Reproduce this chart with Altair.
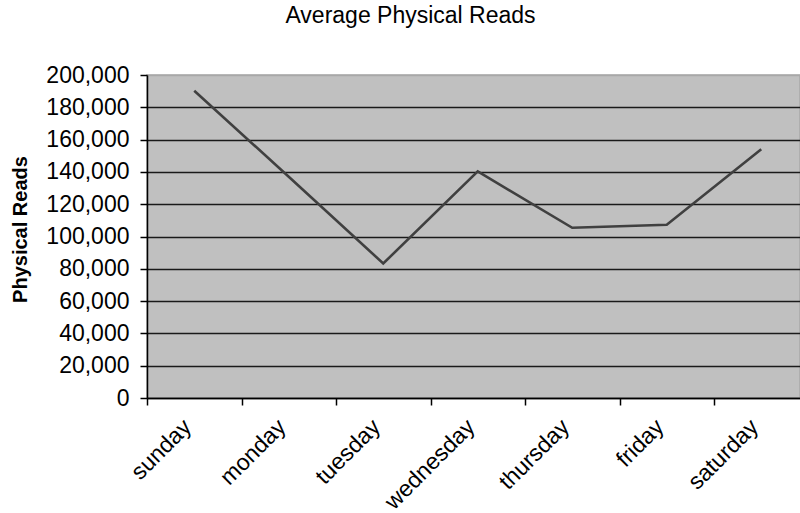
import altair as alt
import pandas as pd

days = ["sunday", "monday", "tuesday", "wednesday", "thursday", "friday", "saturday"]
reads = [190300, 137000, 83300, 140300, 105400, 107300, 154000]
y_ticks = [0, 20000, 40000, 60000, 80000, 100000, 120000, 140000, 160000, 180000, 200000]

df = pd.DataFrame({"day": days, "reads": reads})

FONT = "Liberation Sans"

chart = alt.Chart(df).mark_line(color="#404040", strokeWidth=2.6).encode(
    x=alt.X(
        "day:N",
        sort=days,
        scale=alt.Scale(type="band", paddingInner=0, paddingOuter=0, range=[0, 661.5]),
        axis=alt.Axis(
            title=None,
            labelAngle=315,
            labelAlign="right",
            labelBaseline="middle",
            labelPadding=18,
            labelOffset=-7,
            labelFont=FONT,
            labelFontSize=23,
            labelColor="#000000",
            tickBand="extent",
            tickSize=7,
            tickColor="#000000",
            tickWidth=1.5,
            domainColor="#000000",
            domainWidth=1.5,
            grid=False,
        ),
    ),
    y=alt.Y(
        "reads:Q",
        scale=alt.Scale(domain=[0, 200000], nice=False, zero=True),
        axis=alt.Axis(
            title="Physical Reads",
            titleFont=FONT,
            titleFontSize=20,
            titleFontWeight="bold",
            titleColor="#000000",
            titlePadding=15,
            titleY=154,
            values=y_ticks,
            format=",.0f",
            labelFont=FONT,
            labelFontSize=23,
            labelColor="#000000",
            labelPadding=11,
            tickSize=7,
            tickColor="#000000",
            tickWidth=1.5,
            domainColor="#000000",
            domainWidth=1.5,
            grid=True,
            gridColor=alt.condition(alt.datum.value == 200000, alt.value("#a8a8a8"), alt.value("#1a1a1a")),
            gridWidth=1.5,
            gridOpacity=1,
        ),
    ),
).properties(
    width=653,
    height=323,
    title=alt.TitleParams(
        text="Average Physical Reads",
        font=FONT,
        fontSize=23,
        fontWeight="normal",
        color="#000000",
        anchor="middle",
        frame="group",
        dx=-63,
        offset=36,
    ),
    autosize=alt.AutoSizeParams(type="none"),
    padding={"left": 147, "top": 75, "right": 0, "bottom": 115},
    background="#ffffff",
).configure_view(
    fill="#c0c0c0",
    stroke="#a8a8a8",
    strokeWidth=1.5,
)

chart.save("out.html", embed_options={"renderer": "svg", "actions": False})
